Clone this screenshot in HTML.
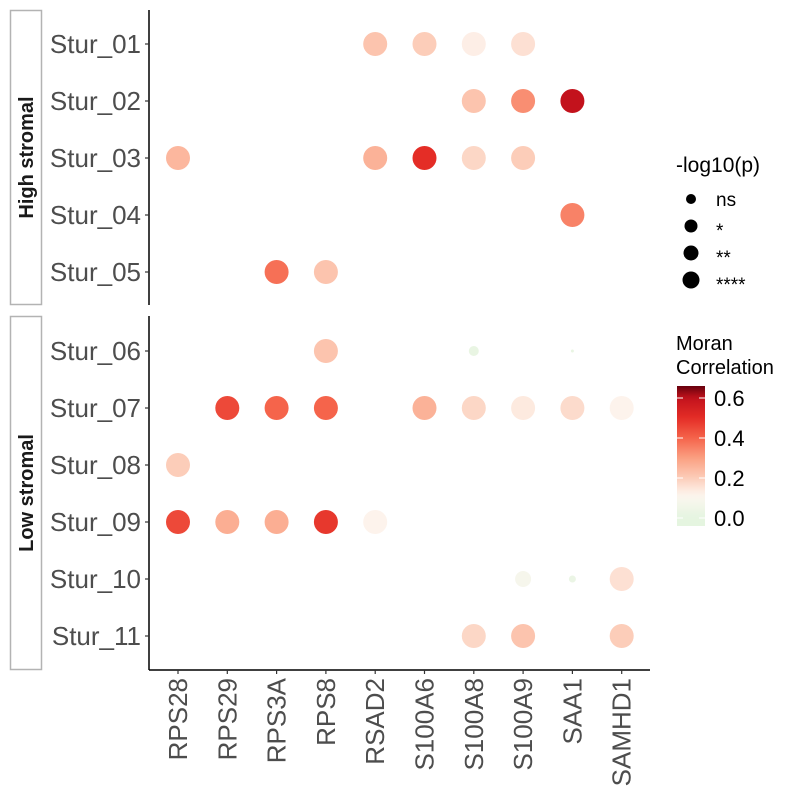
<!DOCTYPE html>
<html><head><meta charset="utf-8"><style>
body{margin:0;background:#fff;}
svg text{font-family:"Liberation Sans",Arial,sans-serif;}
</style></head><body>
<svg id="chart" width="800" height="800" viewBox="0 0 800 800" xmlns="http://www.w3.org/2000/svg"></svg>
<script>
const genes=["RPS28","RPS29","RPS3A","RPS8","RSAD2","S100A6","S100A8","S100A9","SAA1","SAMHD1"];
const highRows=["Stur_01","Stur_02","Stur_03","Stur_04","Stur_05"];
const lowRows=["Stur_06","Stur_07","Stur_08","Stur_09","Stur_10","Stur_11"];
const pointRow=["Stur_01","Stur_01","Stur_01","Stur_01","Stur_02","Stur_02","Stur_02","Stur_03","Stur_03","Stur_03","Stur_03","Stur_03","Stur_04","Stur_05","Stur_05","Stur_06","Stur_06","Stur_06","Stur_07","Stur_07","Stur_07","Stur_07","Stur_07","Stur_07","Stur_07","Stur_07","Stur_08","Stur_09","Stur_09","Stur_09","Stur_09","Stur_09","Stur_10","Stur_10","Stur_10","Stur_11","Stur_11","Stur_11"];
const pointGene=["RSAD2","S100A6","S100A8","S100A9","S100A8","S100A9","SAA1","RPS28","RSAD2","S100A6","S100A8","S100A9","SAA1","RPS3A","RPS8","RPS8","S100A8","SAA1","RPS29","RPS3A","RPS8","S100A6","S100A8","S100A9","SAA1","SAMHD1","RPS28","RPS28","RPS29","RPS3A","RPS8","RSAD2","S100A9","SAA1","SAMHD1","S100A8","S100A9","SAMHD1"];
const pointCorr=[0.22,0.2,0.13,0.16,0.22,0.33,0.6,0.25,0.26,0.5,0.18,0.2,0.35,0.38,0.22,0.22,0.02,0.02,0.45,0.4,0.4,0.26,0.18,0.14,0.17,0.12,0.2,0.45,0.27,0.27,0.48,0.12,0.08,0.03,0.16,0.18,0.22,0.2];
const pointRadius=[12,12,12,12,12,12,12,12,12,12,12,12,12,12,12,12,5,1.5,12,12,12,12,12,12,12,12,12,12,12,12,12,12,8,3.5,12,12,12,12];
const legendLabels=["ns","*","**","****"];
const legendRadius=[5,6.5,7.5,8.5];
const cbTicks=[0.0,0.2,0.4,0.6];

const NS="http://www.w3.org/2000/svg";
const svg=document.getElementById('chart');
function mk(t,a,p){const e=document.createElementNS(NS,t);for(const k in a)e.setAttribute(k,a[k]);(p||svg).appendChild(e);return e;}
const x=g=>178+genes.indexOf(g)*49.3;
function yOf(r){let i=highRows.indexOf(r);if(i>=0)return 44+i*57;i=lowRows.indexOf(r);return 351+i*57;}
const stops=[[0,[229,245,224]],[0.08,[246,246,236]],[0.12,[253,243,236]],[0.2,[252,205,185]],[0.3,[251,160,130]],[0.4,[245,100,75]],[0.5,[228,45,38]],[0.6,[195,18,28]],[0.66,[103,0,13]]];
function col(v){if(v<=stops[0][0])return `rgb(${stops[0][1]})`;for(let i=1;i<stops.length;i++){if(v<=stops[i][0]){const a=stops[i-1],b=stops[i],t=(v-a[0])/(b[0]-a[0]);return `rgb(${a[1].map((c,j)=>Math.round(c+(b[1][j]-c)*t)).join(',')})`;}}return `rgb(${stops[stops.length-1][1]})`;}

[[10,305,"High stromal","strip-high-stromal"],[316,670,"Low stromal","strip-low-stromal"]].forEach(([y0,y1,lab,n])=>{
 const r=mk('rect',{x:10.5,y:y0+0.5,width:31,height:y1-y0-1,fill:'#fff',stroke:'#b3b3b3','stroke-width':1.5});
 
 const t=mk('text',{x:0,y:0,transform:`translate(33,${(y0+y1)/2}) rotate(-90)`,'text-anchor':'middle','font-size':20,'font-weight':'bold',fill:'#1a1a1a'});t.textContent=lab;
 
 const ax=mk('line',{x1:149,x2:149,y1:y0,y2:y1,stroke:'#000','stroke-width':1.5});
 
});
highRows.concat(lowRows).forEach(r=>{const y=yOf(r);
 mk('line',{x1:145,x2:149,y1:y,y2:y,stroke:'#333','stroke-width':1.2});
 const t=mk('text',{x:141,y:y+9,'text-anchor':'end','font-size':26,fill:'#4d4d4d'});t.textContent=r;
 });
const xa=mk('line',{x1:149,x2:650,y1:670,y2:670,stroke:'#000','stroke-width':1.5});

genes.forEach(g=>{const gx=x(g);
 mk('line',{x1:gx,x2:gx,y1:670,y2:674,stroke:'#333','stroke-width':1.2});
 const t=mk('text',{x:0,y:0,transform:`translate(${gx+9},678) rotate(-90)`,'text-anchor':'end','font-size':26,fill:'#4d4d4d'});t.textContent=g;
 });
pointRow.forEach((r,i)=>{const c=mk('circle',{cx:x(pointGene[i]),cy:yOf(r),r:pointRadius[i],fill:col(pointCorr[i])});
 });
let t=mk('text',{x:676,y:172,'font-size':21,fill:'#000'});t.textContent='-log10(p)';

legendLabels.forEach((l,i)=>{const y=199+i*27;
 const c=mk('circle',{cx:691,cy:y,r:legendRadius[i],fill:'#000'});
 const tt=mk('text',{x:716,y:y+(l==='ns'?7:11),'font-size':19,fill:'#000'});tt.textContent=l;
 });
t=mk('text',{x:676,y:350,'font-size':20,fill:'#000'});t.textContent='Moran';
t=mk('text',{x:676,y:374,'font-size':20,fill:'#000'});t.textContent='Correlation';
const defs=mk('defs',{});const lg=mk('linearGradient',{id:'cg',x1:0,y1:1,x2:0,y2:0},defs);
const cbMin=-0.04,cbMax=0.66,cbTop=386,cbBot=526;
for(let k=0;k<=28;k++){const v=cbMin+(cbMax-cbMin)*k/28;mk('stop',{offset:k/28,'stop-color':col(v)},lg);}
const cb=mk('rect',{x:677,y:cbTop,width:28,height:cbBot-cbTop,fill:'url(#cg)'});
const cy=v=>cbBot-(v-cbMin)/(cbMax-cbMin)*(cbBot-cbTop);
cbTicks.forEach(v=>{const y=cy(v);
 mk('line',{x1:677,x2:683,y1:y,y2:y,stroke:'#fff','stroke-width':1});mk('line',{x1:699,x2:705,y1:y,y2:y,stroke:'#fff','stroke-width':1});
 const tt=mk('text',{x:714,y:y+8,'font-size':22,fill:'#000'});tt.textContent=v.toFixed(1);
 });
</script>
</body></html>
